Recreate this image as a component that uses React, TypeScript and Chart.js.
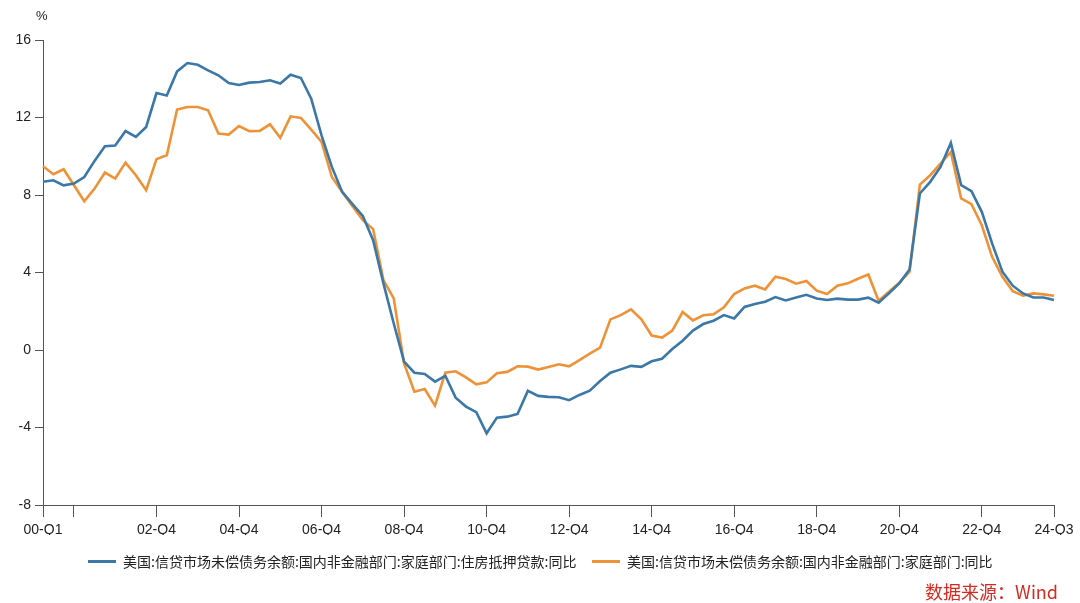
import React, { useEffect, useRef } from 'react';
import { Chart, registerables } from 'chart.js';

Chart.register(...registerables);

// Quarterly categories 2000-Q1 .. 2024-Q3
const years = ['00','01','02','03','04','05','06','07','08','09','10','11','12','13','14','15','16','17','18','19','20','21','22','23','24'];
const quarters = ['Q1','Q2','Q3','Q4'];
const categories: string[] = [];
years.forEach((y) => quarters.forEach((q) => categories.push(`${y}-${q}`)));
categories.splice(categories.length - 1, 1); // ends at 24-Q3

// Axis tick positions shown (00-Q4 has a tick mark but no label)
const tickLabels = ['00-Q1','00-Q4','02-Q4','04-Q4','06-Q4','08-Q4','10-Q4','12-Q4','14-Q4','16-Q4','18-Q4','20-Q4','22-Q4','24-Q3'];
const unlabeledTicks = ['00-Q4'];

const yTicks = [-8, -4, 0, 4, 8, 12, 16];

const seriesNames = [
  '美国:信贷市场未偿债务余额:国内非金融部门:家庭部门:住房抵押贷款:同比',
  '美国:信贷市场未偿债务余额:国内非金融部门:家庭部门:同比',
];

const mortgageYoY = [
  8.68, 8.76, 8.50, 8.59, 8.93, 9.76, 10.52, 10.55, 11.30, 11.00, 11.51, 13.26, 13.14, 14.38, 14.81, 14.72, 14.43, 14.18, 13.78, 13.68, 13.80,
  13.83, 13.92, 13.75, 14.21, 14.04, 12.97, 11.08, 9.45, 8.16, 7.53, 6.92, 5.67, 3.44, 1.37, -0.60, -1.17, -1.24, -1.63, -1.33, -2.46,
  -2.92, -3.21, -4.30, -3.49, -3.44, -3.30, -2.11, -2.37, -2.42, -2.44, -2.59, -2.32, -2.10, -1.60, -1.17, -1.00, -0.82, -0.87, -0.58,
  -0.45, 0.05, 0.48, 1.00, 1.34, 1.51, 1.80, 1.63, 2.22, 2.37, 2.49, 2.73, 2.56, 2.71, 2.85, 2.66, 2.58, 2.65, 2.60, 2.60,
  2.70, 2.44, 2.92, 3.44, 4.16, 8.08, 8.68, 9.45, 10.69, 8.51, 8.20, 7.13, 5.50, 4.04, 3.32, 2.92, 2.71, 2.71, 2.58,
];

const householdYoY = [
  9.48, 9.07, 9.33, 8.50, 7.68, 8.33, 9.16, 8.85, 9.67, 9.02, 8.25, 9.85, 10.05, 12.41, 12.54, 12.54, 12.37, 11.17, 11.12, 11.56, 11.29,
  11.31, 11.65, 10.95, 12.06, 11.98, 11.37, 10.74, 8.93, 8.16, 7.42, 6.70, 6.24, 3.61, 2.66, -0.69, -2.15, -2.01, -2.87, -1.17, -1.10,
  -1.41, -1.77, -1.67, -1.20, -1.13, -0.84, -0.86, -1.01, -0.88, -0.74, -0.84, -0.52, -0.19, 0.12, 1.58, 1.80, 2.10, 1.58, 0.75,
  0.64, 1.00, 1.96, 1.53, 1.79, 1.84, 2.20, 2.89, 3.18, 3.32, 3.13, 3.78, 3.66, 3.42, 3.56, 3.06, 2.89, 3.32, 3.44, 3.68,
  3.90, 2.54, 3.01, 3.47, 4.04, 8.54, 9.02, 9.62, 10.22, 7.82, 7.53, 6.44, 4.81, 3.78, 3.04, 2.80, 2.92, 2.87, 2.80,
];

const BLUE = '#3b78a7';
const ORANGE = '#ee9237';
const AXIS = '#555555';
const TEXT = '#222222';
const TICK_FONT = "'Liberation Sans', Arial, Helvetica, sans-serif";
const CJK_FONT = "'Noto Sans CJK SC', 'Liberation Sans', sans-serif";

export default function App() {
  const canvasRef = useRef<HTMLCanvasElement | null>(null);

  useEffect(() => {
    const canvas = canvasRef.current;
    if (!canvas) return;
    const tickSet = new Set(tickLabels);
    const hidden = new Set(unlabeledTicks);
    const chart = new Chart(canvas, {
      type: 'line',
      data: {
        labels: categories,
        datasets: [
          {
            label: seriesNames[0],
            data: mortgageYoY,
            borderColor: BLUE,
            backgroundColor: BLUE,
            borderWidth: 2.6,
            pointRadius: 0,
            tension: 0,
          },
          {
            label: seriesNames[1],
            data: householdYoY,
            borderColor: ORANGE,
            backgroundColor: ORANGE,
            borderWidth: 2.6,
            pointRadius: 0,
            tension: 0,
          },
        ],
      },
      options: {
        responsive: false,
        animation: false,
        events: [],
        layout: { padding: { top: 40, right: 26, bottom: 68, left: 0 } },
        plugins: {
          legend: { display: false },
          tooltip: { enabled: false },
        },
        scales: {
          x: {
            type: 'category',
            offset: false,
            grid: { drawOnChartArea: false, tickLength: 12, color: AXIS, lineWidth: 1 },
            border: { color: AXIS, width: 1 },
            ticks: {
              autoSkip: false,
              maxRotation: 0,
              minRotation: 0,
              padding: 5,
              color: TEXT,
              font: { family: TICK_FONT, size: 14 },
              callback: function (this: any, value: any) {
                const lab = categories[value as number];
                return hidden.has(lab) ? '' : lab;
              },
            },
            afterBuildTicks: (scale: any) => {
              scale.ticks = scale.ticks.filter((t: any) => tickSet.has(categories[t.value]));
            },
            afterFit: (scale: any) => {
              scale.height = 30;
            },
          },
          y: {
            min: yTicks[0],
            max: yTicks[yTicks.length - 1],
            grid: { drawOnChartArea: false, tickLength: 8, color: AXIS, lineWidth: 1 },
            border: { color: AXIS, width: 1 },
            ticks: {
              stepSize: 4,
              padding: 4,
              color: TEXT,
              font: { family: TICK_FONT, size: 14 },
            },
            afterBuildTicks: (scale: any) => {
              scale.ticks = yTicks.map((v) => ({ value: v }));
            },
            afterFit: (scale: any) => {
              scale.width = 43;
            },
          },
        },
      },
    });
    return () => chart.destroy();
  }, []);

  const legendItem = (color: string, text: string, left: number) => (
    <div
      style={{
        position: 'absolute',
        left,
        top: 551,
        height: 20,
        display: 'flex',
        alignItems: 'center',
        whiteSpace: 'nowrap',
        fontFamily: CJK_FONT,
        fontSize: 14,
        color: TEXT,
      }}
    >
      <span style={{ display: 'inline-block', width: 28, height: 3, background: color, marginRight: 7 }} />
      <span>{text}</span>
    </div>
  );

  return (
    <div
      style={{
        position: 'fixed',
        left: 0,
        top: 0,
        width: 1080,
        height: 603,
        background: '#ffffff',
        overflow: 'hidden',
      }}
    >
      <canvas ref={canvasRef} width={1080} height={603} style={{ display: 'block', width: 1080, height: 603 }} />
      <div
        style={{
          position: 'absolute',
          left: 36,
          top: 8,
          fontFamily: TICK_FONT,
          fontSize: 13,
          lineHeight: '16px',
          color: TEXT,
        }}
      >
        %
      </div>
      {legendItem(BLUE, seriesNames[0], 88)}
      {legendItem(ORANGE, seriesNames[1], 592)}
      <div
        style={{
          position: 'absolute',
          right: 22,
          top: 578,
          fontFamily: CJK_FONT,
          fontSize: 18,
          lineHeight: '26px',
          color: '#d32a22',
          whiteSpace: 'nowrap',
        }}
      >
        数据来源：Wind
      </div>
    </div>
  );
}
